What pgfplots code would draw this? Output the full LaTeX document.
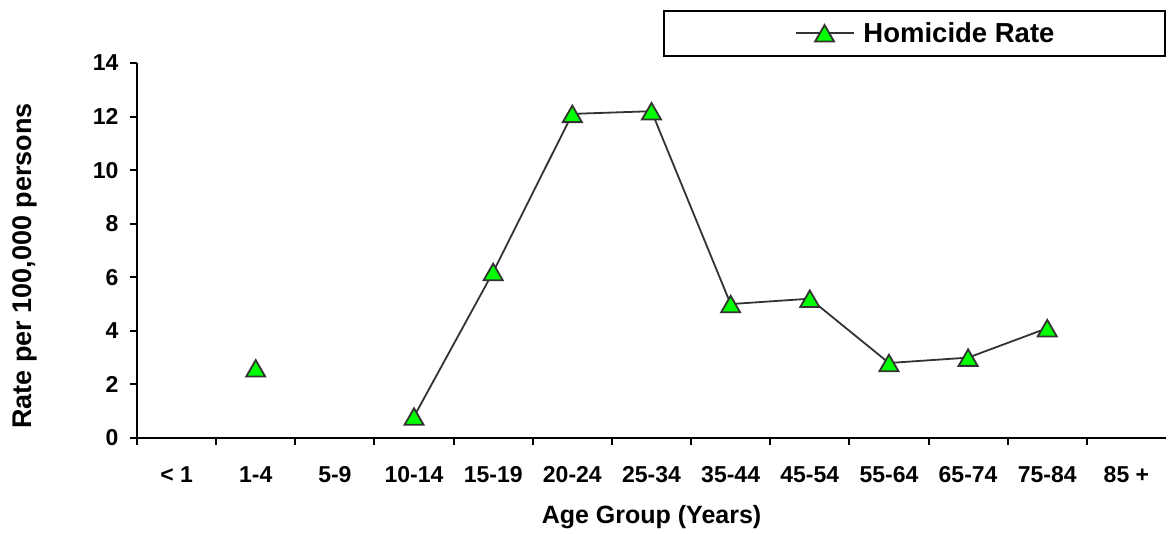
\documentclass[border=0pt]{standalone}
\usepackage{pgfplots}
\pgfplotsset{compat=1.18}
\usepackage{fontspec}
\setmainfont{Liberation Sans}
\definecolor{darkline}{HTML}{333333}
\definecolor{markgreen}{HTML}{00FF00}
\begin{document}
\begin{tikzpicture}[x=1pt,y=1pt]
\useasboundingbox (0,0) rectangle (1168,534);
\begin{axis}[
  at={(137pt,96pt)}, anchor=south west,
  scale only axis, width=1029pt, height=375pt,
  xmin=-0.5, xmax=12.5, ymin=0, ymax=14,
  axis x line=bottom, axis y line=left,
  axis line style={-, line width=2pt, black},
  tick align=outside, major tick length=7pt,
  tick style={black, line width=2pt},
  /pgf/number format/assume math mode=true,
  ytick={0,2,...,14},
  yticklabel style={xshift=-8pt},
  xtick={-0.5,0.5,...,11.5}, xticklabels={},
  extra x ticks={0,1,...,12},
  extra x tick labels={{< 1},{1-4},{5-9},{10-14},{15-19},{20-24},{25-34},{35-44},{45-54},{55-64},{65-74},{75-84},{85 +}},
  extra x tick style={major tick length=0pt, tick style={draw=none},
    xticklabel style={anchor=center, yshift=-37pt}},
  ticklabel style={font=\fontsize{23}{23}\selectfont\bfseries},
  xlabel={Age Group (Years)},
  ylabel={Rate per 100,000 persons},
  xlabel style={font=\fontsize{25}{25}\selectfont\bfseries, at={(axis description cs:0.5,-0.2107)}, anchor=center},
  ylabel style={font=\fontsize{27}{27}\selectfont\bfseries, at={(axis description cs:-0.1088,0.459)}, anchor=center},
  legend style={at={(axis description cs:1,1.016)}, anchor=south east,
    draw=black, line width=2pt, inner xsep=108.5pt, inner ysep=10pt,
    font=\fontsize{27.5}{27.5}\selectfont\bfseries},
  % line with a centred marker, plus a little space on both sides
  legend image code/.code={%
    \path (-22pt,0pt) (65pt,0pt);
    \draw[mark repeat=2,mark phase=2,#1] plot coordinates {(0pt,0pt) (29pt,0pt) (58pt,0pt)};},
  clip=false,
]
\addplot[darkline, line width=1.8pt, mark=triangle*, mark size=11pt,
  mark options={fill=markgreen, draw=darkline, line width=1.8pt, yshift=-2.75pt},
  unbounded coords=jump]
  coordinates {(1,2.6) (2,nan) (3,0.8) (4,6.2) (5,12.1) (6,12.2) (7,5.0) (8,5.2) (9,2.8) (10,3.0) (11,4.1)};
\addlegendentry{Homicide Rate}
\end{axis}
\end{tikzpicture}
\end{document}
